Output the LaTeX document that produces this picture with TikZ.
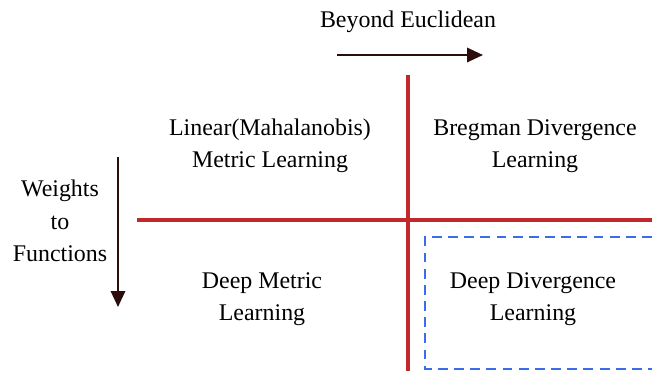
\documentclass[tikz,border=0pt]{standalone}
\usepackage{fontspec}
\setmainfont{Liberation Serif}
\usetikzlibrary{arrows.meta}
\tikzset{>={Triangle[length=0.4cm,width=0.36cm]}}

\begin{document}
\begin{tikzpicture}[x=0.025cm,y=-0.025cm,
    quadtxt/.style={align=center,font=\fontsize{17}{23}\selectfont},
    axisline/.style={line width=1.5pt,draw=axisdark,->},
    splitline/.style={line width=2.2pt,draw=splitred}]
      \definecolor{axisdark}{RGB}{45,12,12}
      \definecolor{splitred}{RGB}{192,40,44}
      \definecolor{dashblue}{RGB}{58,110,232}
\useasboundingbox (0,0) rectangle (652,371);

% the two directions
\node[quadtxt] (beyond) at (408,22) {Beyond Euclidean};
\coordinate (bx0) at (337,55);
\coordinate (bx1) at (483,55);
\draw[axisline] (bx0) -- (bx1);

\node[quadtxt] (weights) at (60,221) {Weights\\to\\Functions};
\coordinate (wy0) at (118,157);
\coordinate (wy1) at (118,307);
\draw[axisline] (wy0) -- (wy1);

% red cross splitting the four fields
\coordinate (vtop) at (408,75);
\coordinate (vbot) at (408,371);
\coordinate (hleft) at (137,220);
\coordinate (hright) at (652,220);
\draw[splitline] (vtop) -- (vbot);
\draw[splitline] (hleft) -- (hright);

% dashed box round the new field
\draw[dashblue,line width=1.6pt,dash pattern=on 7pt off 4.5pt]
      (652,237) -- (425,237) -- (425,369) -- (652,369);

% four fields
\node[quadtxt] (linear) at (270,146) {Linear(Mahalanobis)\\Metric Learning};
\node[quadtxt] (bregman) at (535,146) {Bregman Divergence\\Learning};
\node[quadtxt] (deepmetric) at (262,299) {Deep Metric\\Learning};
\node[quadtxt] (deepdiv) at (533,299) {Deep Divergence\\Learning};
\end{tikzpicture}
\end{document}
